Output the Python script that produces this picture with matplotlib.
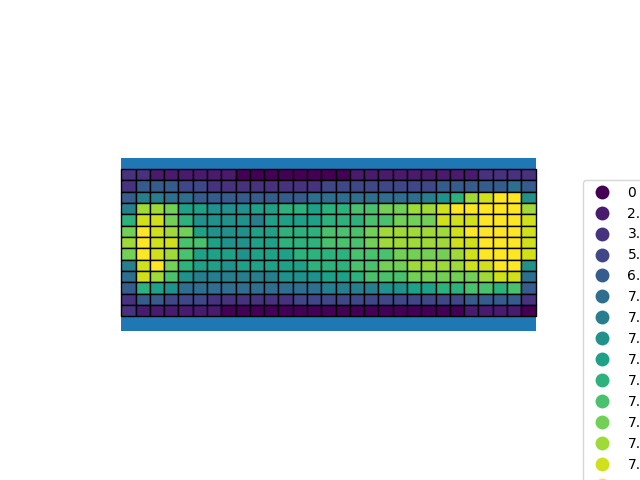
import numpy as np
import matplotlib
matplotlib.use("Agg")
import matplotlib.pyplot as plt
from matplotlib.patches import Rectangle
from matplotlib.lines import Line2D
from matplotlib.colors import Normalize

# Category values (legend labels) in sorted order
category_values = [0, 2.302585, 3.401197, 5.123964, 6.282267, 7.013016,
                   7.110696, 7.201171, 7.300473, 7.401842, 7.500529,
                   7.601402, 7.700748, 7.800573, 7.901007]

# Grid cells: category index per cell, top row first (13 rows x 29 columns)
grid_codes = [
    [2, 2, 1, 1, 1, 1, 1, 1, 0, 0, 0, 0, 0, 0, 0, 0, 1, 1, 1, 1, 1, 1, 1, 1, 1, 2, 2, 2, 2],
    [2, 4, 4, 4, 3, 3, 2, 2, 2, 2, 2, 2, 2, 2, 3, 3, 3, 3, 3, 3, 3, 3, 4, 4, 4, 4, 4, 5, 4],
    [4, 6, 6, 5, 5, 4, 4, 4, 4, 4, 4, 4, 4, 5, 5, 5, 5, 5, 5, 5, 5, 6, 7, 9, 12, 13, 14, 14, 7],
    [6, 12, 12, 11, 8, 8, 7, 7, 7, 8, 8, 9, 9, 8, 9, 9, 10, 10, 11, 11, 12, 12, 13, 14, 14, 14, 14, 14, 12],
    [9, 13, 13, 11, 9, 7, 7, 7, 7, 6, 8, 8, 8, 8, 9, 9, 9, 10, 10, 11, 11, 11, 13, 13, 13, 14, 14, 14, 13],
    [11, 14, 13, 12, 11, 8, 7, 7, 7, 8, 8, 9, 9, 9, 10, 10, 10, 11, 12, 12, 12, 12, 12, 13, 14, 14, 14, 14, 13],
    [12, 14, 13, 13, 10, 10, 8, 7, 7, 8, 8, 9, 9, 9, 10, 10, 10, 11, 12, 12, 12, 12, 12, 13, 13, 14, 14, 14, 13],
    [11, 14, 13, 12, 10, 8, 8, 8, 7, 8, 8, 8, 9, 9, 9, 9, 10, 10, 10, 11, 11, 11, 11, 12, 13, 14, 14, 14, 13],
    [6, 13, 14, 11, 9, 8, 8, 7, 8, 8, 8, 8, 8, 9, 9, 9, 10, 10, 11, 11, 12, 12, 12, 12, 13, 13, 14, 14, 7],
    [5, 13, 12, 10, 7, 6, 6, 6, 6, 6, 6, 7, 7, 7, 8, 8, 9, 10, 10, 10, 11, 11, 11, 11, 11, 12, 13, 13, 5],
    [4, 9, 8, 7, 5, 5, 5, 5, 5, 5, 5, 5, 5, 5, 6, 6, 6, 6, 7, 7, 8, 8, 9, 9, 10, 10, 9, 10, 4],
    [2, 4, 4, 3, 3, 3, 2, 2, 2, 2, 2, 2, 3, 3, 3, 3, 3, 3, 3, 3, 3, 3, 3, 3, 4, 4, 4, 4, 2],
    [2, 1, 1, 1, 1, 1, 1, 0, 0, 0, 0, 0, 0, 0, 0, 0, 0, 0, 0, 0, 0, 0, 0, 0, 1, 1, 1, 1, 0],
]

# Background polygon bounds (data units): xmin, ymin, xmax, ymax
background_bounds = [0.0, -1.27, 29.0, 13.94]

codes = np.array(grid_codes)
n_rows, n_cols = codes.shape
n_cat = len(category_values)

fig = plt.figure(figsize=(6.4, 4.8), dpi=100)
ax = fig.add_axes([121.3 / 640, 1 - 330.7 / 480, 414.2 / 640, 172.4 / 480])

bx0, by0, bx1, by1 = background_bounds
ax.add_patch(Rectangle((bx0, by0), bx1 - bx0, by1 - by0,
                       facecolor="#1f77b4", edgecolor="none", zorder=1))

cmap = plt.get_cmap("viridis")
norm = Normalize(vmin=0, vmax=n_cat - 1)
x_edges = np.arange(n_cols + 1)
y_edges = np.arange(n_rows, -1, -1)
mesh = ax.pcolormesh(x_edges, y_edges, codes, cmap=cmap, norm=norm,
                     edgecolors="black", linewidth=1.0, antialiased=True,
                     zorder=2)
mesh.set_clip_on(False)

ax.set_xlim(bx0, bx1)
ax.set_ylim(by0, by1)
ax.set_axis_off()

handles = [Line2D([0], [0], linestyle="none", marker="o", markersize=10,
                  markerfacecolor=cmap(norm(i)), markeredgewidth=0)
           for i in range(n_cat)]
labels = [str(v) for v in category_values]
fig.legend(handles, labels, loc="upper left",
           bbox_to_anchor=(583 / 640, 1 - 180 / 480),
           bbox_transform=fig.transFigure, borderaxespad=0, numpoints=1)

fig.savefig("out.png", dpi=100)
